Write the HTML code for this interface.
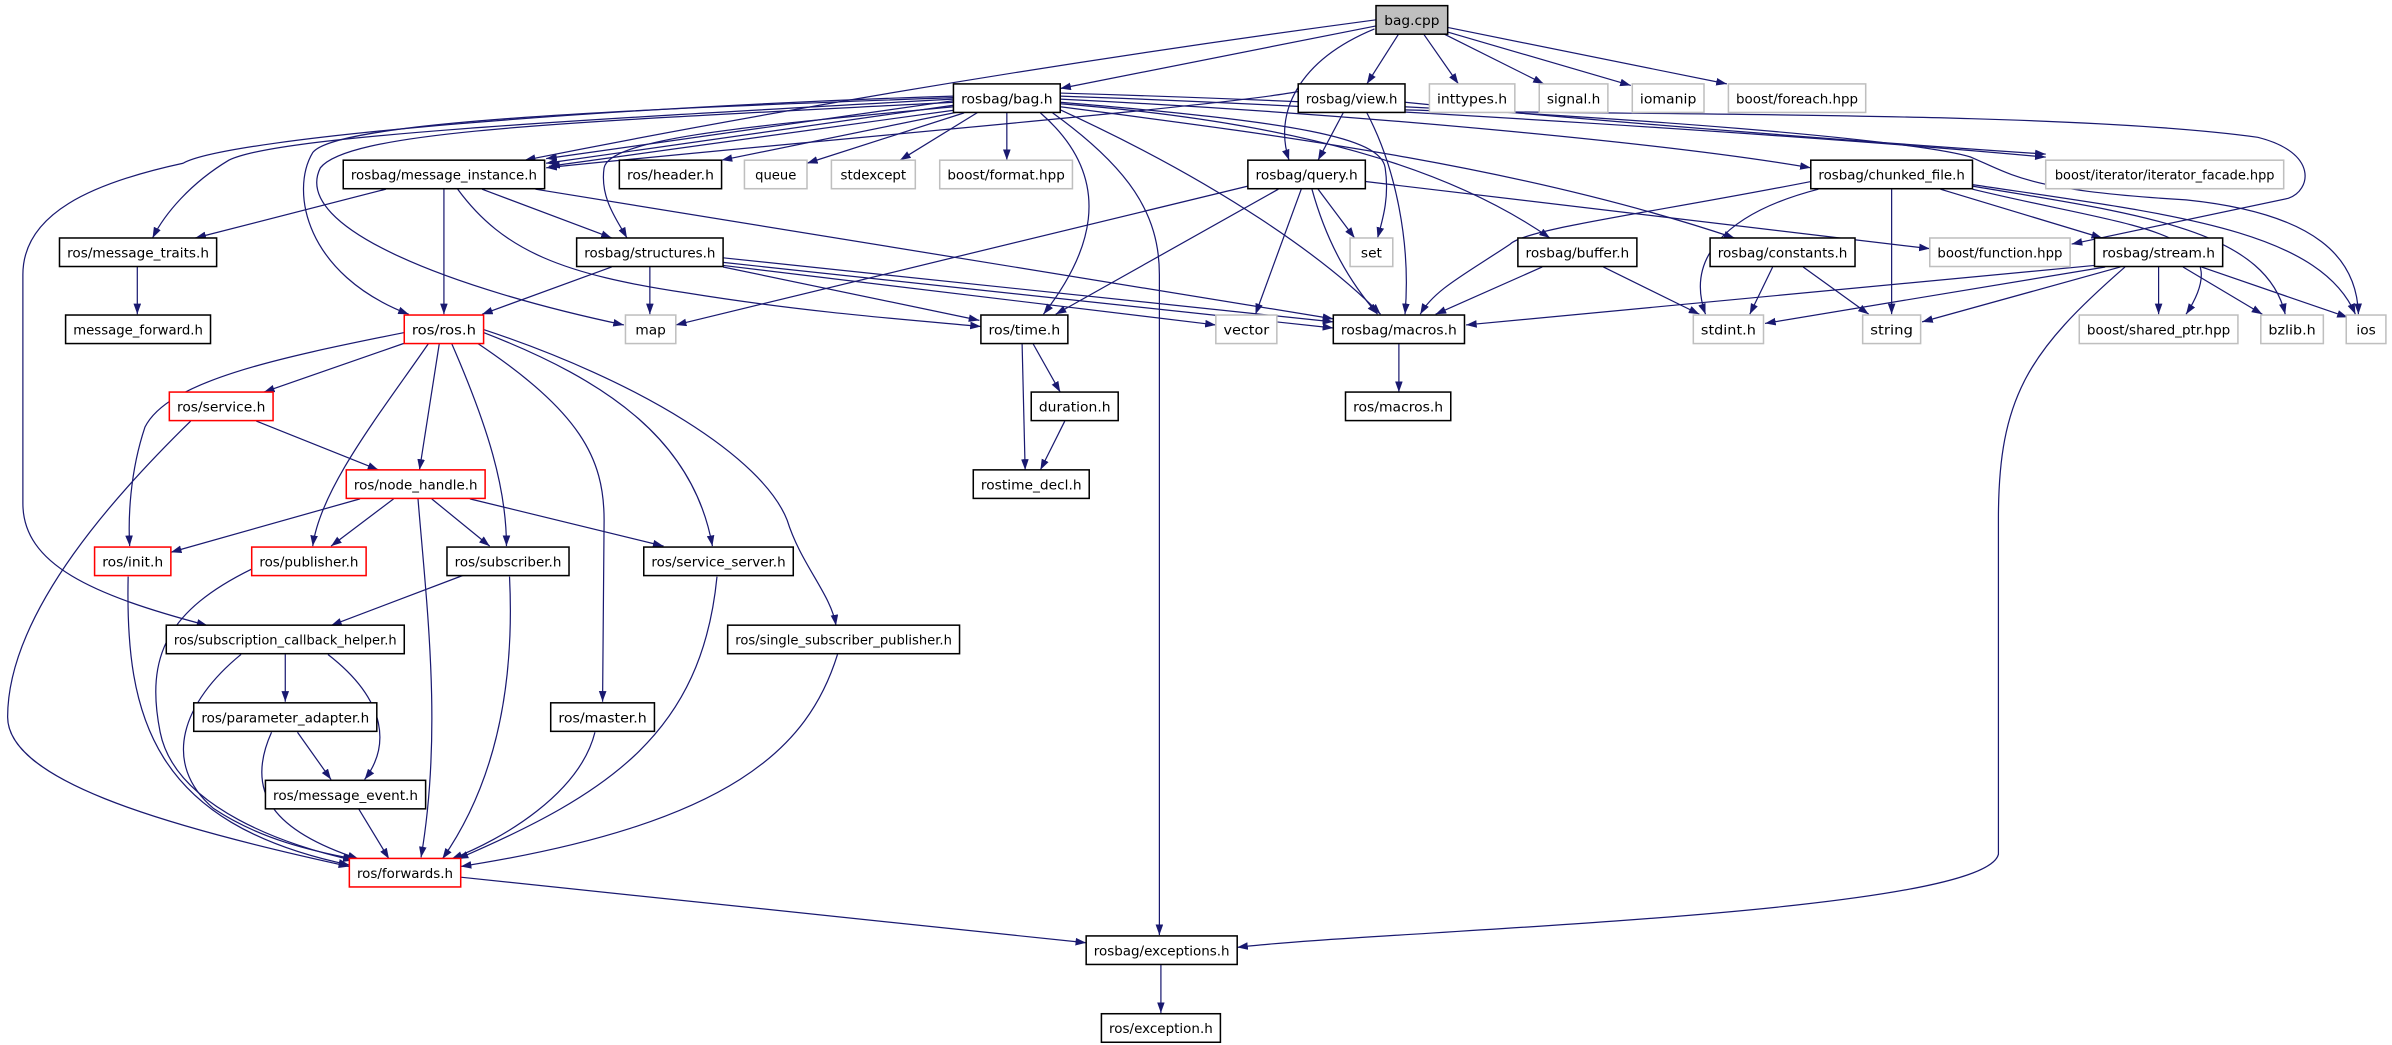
<!DOCTYPE html>
<html><head><meta charset="utf-8"><style>
html,body{margin:0;padding:0;background:#fff;}
svg{display:block;}
text{font-family:"DejaVu Sans","Liberation Sans",sans-serif;font-size:9px;fill:#000;}
</style></head><body>
<svg width="2392" height="1045" viewBox="0 0 1568 685" preserveAspectRatio="none" xmlns="http://www.w3.org/2000/svg">
<defs><marker id="a" markerUnits="userSpaceOnUse" markerWidth="8" markerHeight="6" refX="7" refY="2.5" orient="auto"><path d="M0,0 L7,2.5 L0,5 z" fill="#191970"/></marker></defs>
<g fill="none" stroke="#191970" stroke-width="0.8" marker-end="url(#a)">
<path d="M902,17 L695,58"/>
<path d="M902,13 C760,32 560,62 344,105"/>
<path d="M917,22 L896,55"/>
<path d="M901,19 C850,40 835,75 845,105"/>
<path d="M933,22 L956,55"/>
<path d="M946,22 L1012,55"/>
<path d="M949,21 L1069,56"/>
<path d="M949,18 L1132,55"/>
<path d="M625,66 L358,104"/>
<path d="M625,69 L358,107"/>
<path d="M627,72 L360,109"/>
<path d="M851,60 C800,70 500,95 358,110"/>
<path d="M630,73 L473,105"/>
<path d="M632,74 L529,107"/>
<path d="M642,73 L590,105"/>
<path d="M660,74 L660,105"/>
<path d="M625,65 C350,80 180,90 150,105 C125,120 108,140 100,156"/>
<path d="M625,64 C400,72 220,80 205,100 C190,125 200,180 268,206"/>
<path d="M625,67 C380,80 230,85 210,110 C190,150 300,190 409,213"/>
<path d="M625,70 C500,82 400,90 396,110 C393,130 405,145 411,156"/>
<path d="M682,74 C735,120 712,170 684,206"/>
<path d="M690,74 C740,110 760,140 760,180 L760,613"/>
<path d="M625,63 C400,70 150,90 120,107 C60,120 15,140 15,180 L15,330 C15,370 60,390 136,410"/>
<path d="M695,72 C800,120 870,170 905,206"/>
<path d="M695,67 C850,80 905,90 908,110 C911,130 906,145 903,156"/>
<path d="M695,68 C850,80 950,110 1016,156"/>
<path d="M695,70 C850,90 1000,110 1137,156"/>
<path d="M695,65 C900,75 1100,95 1187,110"/>
<path d="M695,63 C900,70 1200,90 1341,103"/>
<path d="M921,67 C1050,80 1250,95 1341,101"/>
<path d="M695,61 C1000,70 1250,90 1292,103 C1320,115 1330,125 1433,131 C1520,140 1545,170 1546,206"/>
<path d="M921,72 C1050,76 1350,72 1480,90 C1520,100 1515,125 1500,130 L1358,160"/>
<path d="M896,74 C915,110 925,160 921,206"/>
<path d="M881,73 L864,105"/>
<path d="M818,122 L443,213"/>
<path d="M838,124 L692,206"/>
<path d="M864,124 L888,156"/>
<path d="M853,124 L823,206"/>
<path d="M860,124 C870,160 885,185 903,206"/>
<path d="M895,119 L1265,163"/>
<path d="M253,124 L128,156"/>
<path d="M291,124 L291,206"/>
<path d="M316,124 L401,156"/>
<path d="M300,124 C330,165 370,180 450,192 C530,205 600,210 643,214"/>
<path d="M351,124 L874,209"/>
<path d="M401,175 L316,206"/>
<path d="M426,175 L426,206"/>
<path d="M474,175 L642,210"/>
<path d="M474,169 L874,211"/>
<path d="M474,172 L874,215"/>
<path d="M474,174 L797,213"/>
<path d="M90,175 L90,206"/>
<path d="M265,225 L173,257"/>
<path d="M288,225 L275,308"/>
<path d="M265,218 C180,235 110,250 95,280 C85,310 84,340 85,358"/>
<path d="M281,225 C250,270 210,320 205,358"/>
<path d="M296,225 C320,280 332,320 332,358"/>
<path d="M313,225 C380,270 396,300 396,341 L395,460"/>
<path d="M317,218 C400,250 455,290 467,358"/>
<path d="M317,216 C420,250 500,300 516,341 C525,370 545,390 548,410"/>
<path d="M168,276 L248,308"/>
<path d="M125,276 C80,320 5,400 5,470 C5,510 100,540 229,568"/>
<path d="M236,327 L112,362"/>
<path d="M258,327 L217,358"/>
<path d="M283,327 L321,358"/>
<path d="M308,327 L435,358"/>
<path d="M274,327 C280,400 290,480 276,562"/>
<path d="M84,378 C82,470 100,540 229,567"/>
<path d="M165,373 C110,400 95,430 105,480 C115,530 190,555 232,564"/>
<path d="M304,377 L217,410"/>
<path d="M334,378 C338,460 320,520 290,563"/>
<path d="M470,378 C460,480 400,520 300,563"/>
<path d="M549,429 C530,490 480,540 302,568"/>
<path d="M390,480 C380,520 330,550 296,563"/>
<path d="M187,429 L187,460"/>
<path d="M215,429 C255,460 255,490 239,511"/>
<path d="M158,429 C120,460 105,500 140,530 C170,550 205,558 232,563"/>
<path d="M195,480 L217,511"/>
<path d="M178,480 C160,520 180,545 235,563"/>
<path d="M235,530 L255,563"/>
<path d="M302,575 L712,618"/>
<path d="M761,632 L761,664"/>
<path d="M1393,175 C1330,230 1310,260 1310,340 L1310,560 C1300,600 900,610 811,621"/>
<path d="M677,225 L695,257"/>
<path d="M670,225 L672,308"/>
<path d="M698,276 L682,308"/>
<path d="M917,225 L917,257"/>
<path d="M1187,119 C1080,140 1000,150 990,160 C960,180 940,190 931,206"/>
<path d="M1192,124 C1130,140 1105,170 1118,206"/>
<path d="M1240,124 L1240,206"/>
<path d="M1272,124 L1378,156"/>
<path d="M1293,124 C1400,150 1470,150 1433,206"/>
<path d="M1293,122 C1400,140 1485,150 1498,206"/>
<path d="M1293,121 C1420,140 1520,150 1544,206"/>
<path d="M1011,175 L941,206"/>
<path d="M1051,175 L1114,206"/>
<path d="M1162,175 L1147,206"/>
<path d="M1182,175 L1225,206"/>
<path d="M1373,174 L961,213"/>
<path d="M1380,175 L1157,212"/>
<path d="M1390,175 L1260,211"/>
<path d="M1415,175 L1415,206"/>
<path d="M1431,175 L1483,206"/>
<path d="M1443,175 L1539,208"/>
</g>
<g stroke-width="1">
<rect x="902" y="3.7" width="47" height="18.7" fill="#bfbfbf" stroke="#000"/><text x="925.5" y="16.5" text-anchor="middle">bag.cpp</text>
<rect x="625" y="55" width="70" height="18.7" fill="#fff" stroke="#000"/><text x="660" y="67.8" text-anchor="middle" textLength="60" lengthAdjust="spacingAndGlyphs">rosbag/bag.h</text>
<rect x="851" y="55" width="70" height="18.7" fill="#fff" stroke="#000"/><text x="886" y="67.8" text-anchor="middle" textLength="60" lengthAdjust="spacingAndGlyphs">rosbag/view.h</text>
<rect x="937" y="55" width="56" height="18.7" fill="#fff" stroke="#bfbfbf"/><text x="965" y="67.8" text-anchor="middle" textLength="46" lengthAdjust="spacingAndGlyphs">inttypes.h</text>
<rect x="1009" y="55" width="45" height="18.7" fill="#fff" stroke="#bfbfbf"/><text x="1031.5" y="67.8" text-anchor="middle" textLength="35" lengthAdjust="spacingAndGlyphs">signal.h</text>
<rect x="1070" y="55" width="47" height="18.7" fill="#fff" stroke="#bfbfbf"/><text x="1093.5" y="67.8" text-anchor="middle" textLength="37" lengthAdjust="spacingAndGlyphs">iomanip</text>
<rect x="1133" y="55" width="90" height="18.7" fill="#fff" stroke="#bfbfbf"/><text x="1178" y="67.8" text-anchor="middle" textLength="80" lengthAdjust="spacingAndGlyphs">boost/foreach.hpp</text>
<rect x="225" y="105" width="132" height="18.7" fill="#fff" stroke="#000"/><text x="291" y="117.8" text-anchor="middle" textLength="122" lengthAdjust="spacingAndGlyphs">rosbag/message_instance.h</text>
<rect x="406" y="105" width="67" height="18.7" fill="#fff" stroke="#000"/><text x="439.5" y="117.8" text-anchor="middle" textLength="57" lengthAdjust="spacingAndGlyphs">ros/header.h</text>
<rect x="488" y="105" width="41" height="18.7" fill="#fff" stroke="#bfbfbf"/><text x="508.5" y="117.8" text-anchor="middle" textLength="27" lengthAdjust="spacingAndGlyphs">queue</text>
<rect x="545" y="105" width="55" height="18.7" fill="#fff" stroke="#bfbfbf"/><text x="572.5" y="117.8" text-anchor="middle" textLength="43" lengthAdjust="spacingAndGlyphs">stdexcept</text>
<rect x="616" y="105" width="87" height="18.7" fill="#fff" stroke="#bfbfbf"/><text x="659.5" y="117.8" text-anchor="middle" textLength="77" lengthAdjust="spacingAndGlyphs">boost/format.hpp</text>
<rect x="818" y="105" width="77" height="18.7" fill="#fff" stroke="#000"/><text x="856.5" y="117.8" text-anchor="middle" textLength="67" lengthAdjust="spacingAndGlyphs">rosbag/query.h</text>
<rect x="1187" y="105" width="106" height="18.7" fill="#fff" stroke="#000"/><text x="1240" y="117.8" text-anchor="middle" textLength="96" lengthAdjust="spacingAndGlyphs">rosbag/chunked_file.h</text>
<rect x="1341" y="105" width="156" height="18.7" fill="#fff" stroke="#bfbfbf"/><text x="1419" y="117.8" text-anchor="middle" textLength="144" lengthAdjust="spacingAndGlyphs">boost/iterator/iterator_facade.hpp</text>
<rect x="39" y="156" width="103" height="18.7" fill="#fff" stroke="#000"/><text x="90.5" y="168.8" text-anchor="middle" textLength="93" lengthAdjust="spacingAndGlyphs">ros/message_traits.h</text>
<rect x="378" y="156" width="96" height="18.7" fill="#fff" stroke="#000"/><text x="426" y="168.8" text-anchor="middle" textLength="86" lengthAdjust="spacingAndGlyphs">rosbag/structures.h</text>
<rect x="885" y="156" width="28" height="18.7" fill="#fff" stroke="#bfbfbf"/><text x="899" y="168.8" text-anchor="middle">set</text>
<rect x="995" y="156" width="78" height="18.7" fill="#fff" stroke="#000"/><text x="1034" y="168.8" text-anchor="middle" textLength="68" lengthAdjust="spacingAndGlyphs">rosbag/buffer.h</text>
<rect x="1121" y="156" width="95" height="18.7" fill="#fff" stroke="#000"/><text x="1168.5" y="168.8" text-anchor="middle" textLength="85" lengthAdjust="spacingAndGlyphs">rosbag/constants.h</text>
<rect x="1265" y="156" width="92" height="18.7" fill="#fff" stroke="#bfbfbf"/><text x="1311" y="168.8" text-anchor="middle" textLength="82" lengthAdjust="spacingAndGlyphs">boost/function.hpp</text>
<rect x="1373" y="156" width="84" height="18.7" fill="#fff" stroke="#000"/><text x="1415" y="168.8" text-anchor="middle" textLength="74" lengthAdjust="spacingAndGlyphs">rosbag/stream.h</text>
<rect x="43" y="206.5" width="95" height="18.7" fill="#fff" stroke="#000"/><text x="90.5" y="219.3" text-anchor="middle" textLength="85" lengthAdjust="spacingAndGlyphs">message_forward.h</text>
<rect x="265" y="206.5" width="52" height="18.7" fill="#fff" stroke="#f00"/><text x="291" y="219.3" text-anchor="middle" textLength="42" lengthAdjust="spacingAndGlyphs">ros/ros.h</text>
<rect x="410" y="206.5" width="33" height="18.7" fill="#fff" stroke="#bfbfbf"/><text x="426.5" y="219.3" text-anchor="middle">map</text>
<rect x="643" y="206.5" width="57" height="18.7" fill="#fff" stroke="#000"/><text x="671.5" y="219.3" text-anchor="middle" textLength="47" lengthAdjust="spacingAndGlyphs">ros/time.h</text>
<rect x="797" y="206.5" width="40" height="18.7" fill="#fff" stroke="#bfbfbf"/><text x="817" y="219.3" text-anchor="middle" textLength="30" lengthAdjust="spacingAndGlyphs">vector</text>
<rect x="874" y="206.5" width="86" height="18.7" fill="#fff" stroke="#000"/><text x="917" y="219.3" text-anchor="middle" textLength="76" lengthAdjust="spacingAndGlyphs">rosbag/macros.h</text>
<rect x="1110" y="206.5" width="46" height="18.7" fill="#fff" stroke="#bfbfbf"/><text x="1133" y="219.3" text-anchor="middle" textLength="36" lengthAdjust="spacingAndGlyphs">stdint.h</text>
<rect x="1221" y="206.5" width="38" height="18.7" fill="#fff" stroke="#bfbfbf"/><text x="1240" y="219.3" text-anchor="middle" textLength="28" lengthAdjust="spacingAndGlyphs">string</text>
<rect x="1363" y="206.5" width="104" height="18.7" fill="#fff" stroke="#bfbfbf"/><text x="1415" y="219.3" text-anchor="middle" textLength="94" lengthAdjust="spacingAndGlyphs">boost/shared_ptr.hpp</text>
<rect x="1482" y="206.5" width="41" height="18.7" fill="#fff" stroke="#bfbfbf"/><text x="1502.5" y="219.3" text-anchor="middle" textLength="31" lengthAdjust="spacingAndGlyphs">bzlib.h</text>
<rect x="1538" y="206.5" width="26" height="18.7" fill="#fff" stroke="#bfbfbf"/><text x="1551" y="219.3" text-anchor="middle">ios</text>
<rect x="111" y="257" width="68" height="18.7" fill="#fff" stroke="#f00"/><text x="145" y="269.8" text-anchor="middle" textLength="58" lengthAdjust="spacingAndGlyphs">ros/service.h</text>
<rect x="676" y="257" width="57" height="18.7" fill="#fff" stroke="#000"/><text x="704.5" y="269.8" text-anchor="middle" textLength="47" lengthAdjust="spacingAndGlyphs">duration.h</text>
<rect x="882" y="257" width="69" height="18.7" fill="#fff" stroke="#000"/><text x="916.5" y="269.8" text-anchor="middle" textLength="59" lengthAdjust="spacingAndGlyphs">ros/macros.h</text>
<rect x="227" y="308" width="91" height="18.7" fill="#fff" stroke="#f00"/><text x="272.5" y="320.8" text-anchor="middle" textLength="81" lengthAdjust="spacingAndGlyphs">ros/node_handle.h</text>
<rect x="638" y="308" width="76" height="18.7" fill="#fff" stroke="#000"/><text x="676" y="320.8" text-anchor="middle" textLength="66" lengthAdjust="spacingAndGlyphs">rostime_decl.h</text>
<rect x="62" y="358.6" width="50" height="18.7" fill="#fff" stroke="#f00"/><text x="87" y="371.4" text-anchor="middle" textLength="40" lengthAdjust="spacingAndGlyphs">ros/init.h</text>
<rect x="165" y="358.6" width="75" height="18.7" fill="#fff" stroke="#f00"/><text x="202.5" y="371.4" text-anchor="middle" textLength="65" lengthAdjust="spacingAndGlyphs">ros/publisher.h</text>
<rect x="293" y="358.6" width="80" height="18.7" fill="#fff" stroke="#000"/><text x="333" y="371.4" text-anchor="middle" textLength="70" lengthAdjust="spacingAndGlyphs">ros/subscriber.h</text>
<rect x="422" y="358.6" width="98" height="18.7" fill="#fff" stroke="#000"/><text x="471" y="371.4" text-anchor="middle" textLength="88" lengthAdjust="spacingAndGlyphs">ros/service_server.h</text>
<rect x="109" y="409.8" width="156" height="18.7" fill="#fff" stroke="#000"/><text x="187" y="422.6" text-anchor="middle" textLength="146" lengthAdjust="spacingAndGlyphs">ros/subscription_callback_helper.h</text>
<rect x="477" y="409.8" width="152" height="18.7" fill="#fff" stroke="#000"/><text x="553" y="422.6" text-anchor="middle" textLength="142" lengthAdjust="spacingAndGlyphs">ros/single_subscriber_publisher.h</text>
<rect x="127" y="460.7" width="120" height="18.7" fill="#fff" stroke="#000"/><text x="187" y="473.5" text-anchor="middle" textLength="110" lengthAdjust="spacingAndGlyphs">ros/parameter_adapter.h</text>
<rect x="361" y="460.7" width="68" height="18.7" fill="#fff" stroke="#000"/><text x="395" y="473.5" text-anchor="middle" textLength="58" lengthAdjust="spacingAndGlyphs">ros/master.h</text>
<rect x="174" y="511.5" width="105" height="18.7" fill="#fff" stroke="#000"/><text x="226.5" y="524.3" text-anchor="middle" textLength="95" lengthAdjust="spacingAndGlyphs">ros/message_event.h</text>
<rect x="229" y="562.7" width="73" height="18.7" fill="#fff" stroke="#f00"/><text x="265.5" y="575.5" text-anchor="middle" textLength="63" lengthAdjust="spacingAndGlyphs">ros/forwards.h</text>
<rect x="712" y="613.5" width="99" height="18.7" fill="#fff" stroke="#000"/><text x="761.5" y="626.3" text-anchor="middle" textLength="89" lengthAdjust="spacingAndGlyphs">rosbag/exceptions.h</text>
<rect x="722" y="664.5" width="78" height="18.7" fill="#fff" stroke="#000"/><text x="761" y="677.3" text-anchor="middle" textLength="68" lengthAdjust="spacingAndGlyphs">ros/exception.h</text>
</g>
</svg>
</body></html>
